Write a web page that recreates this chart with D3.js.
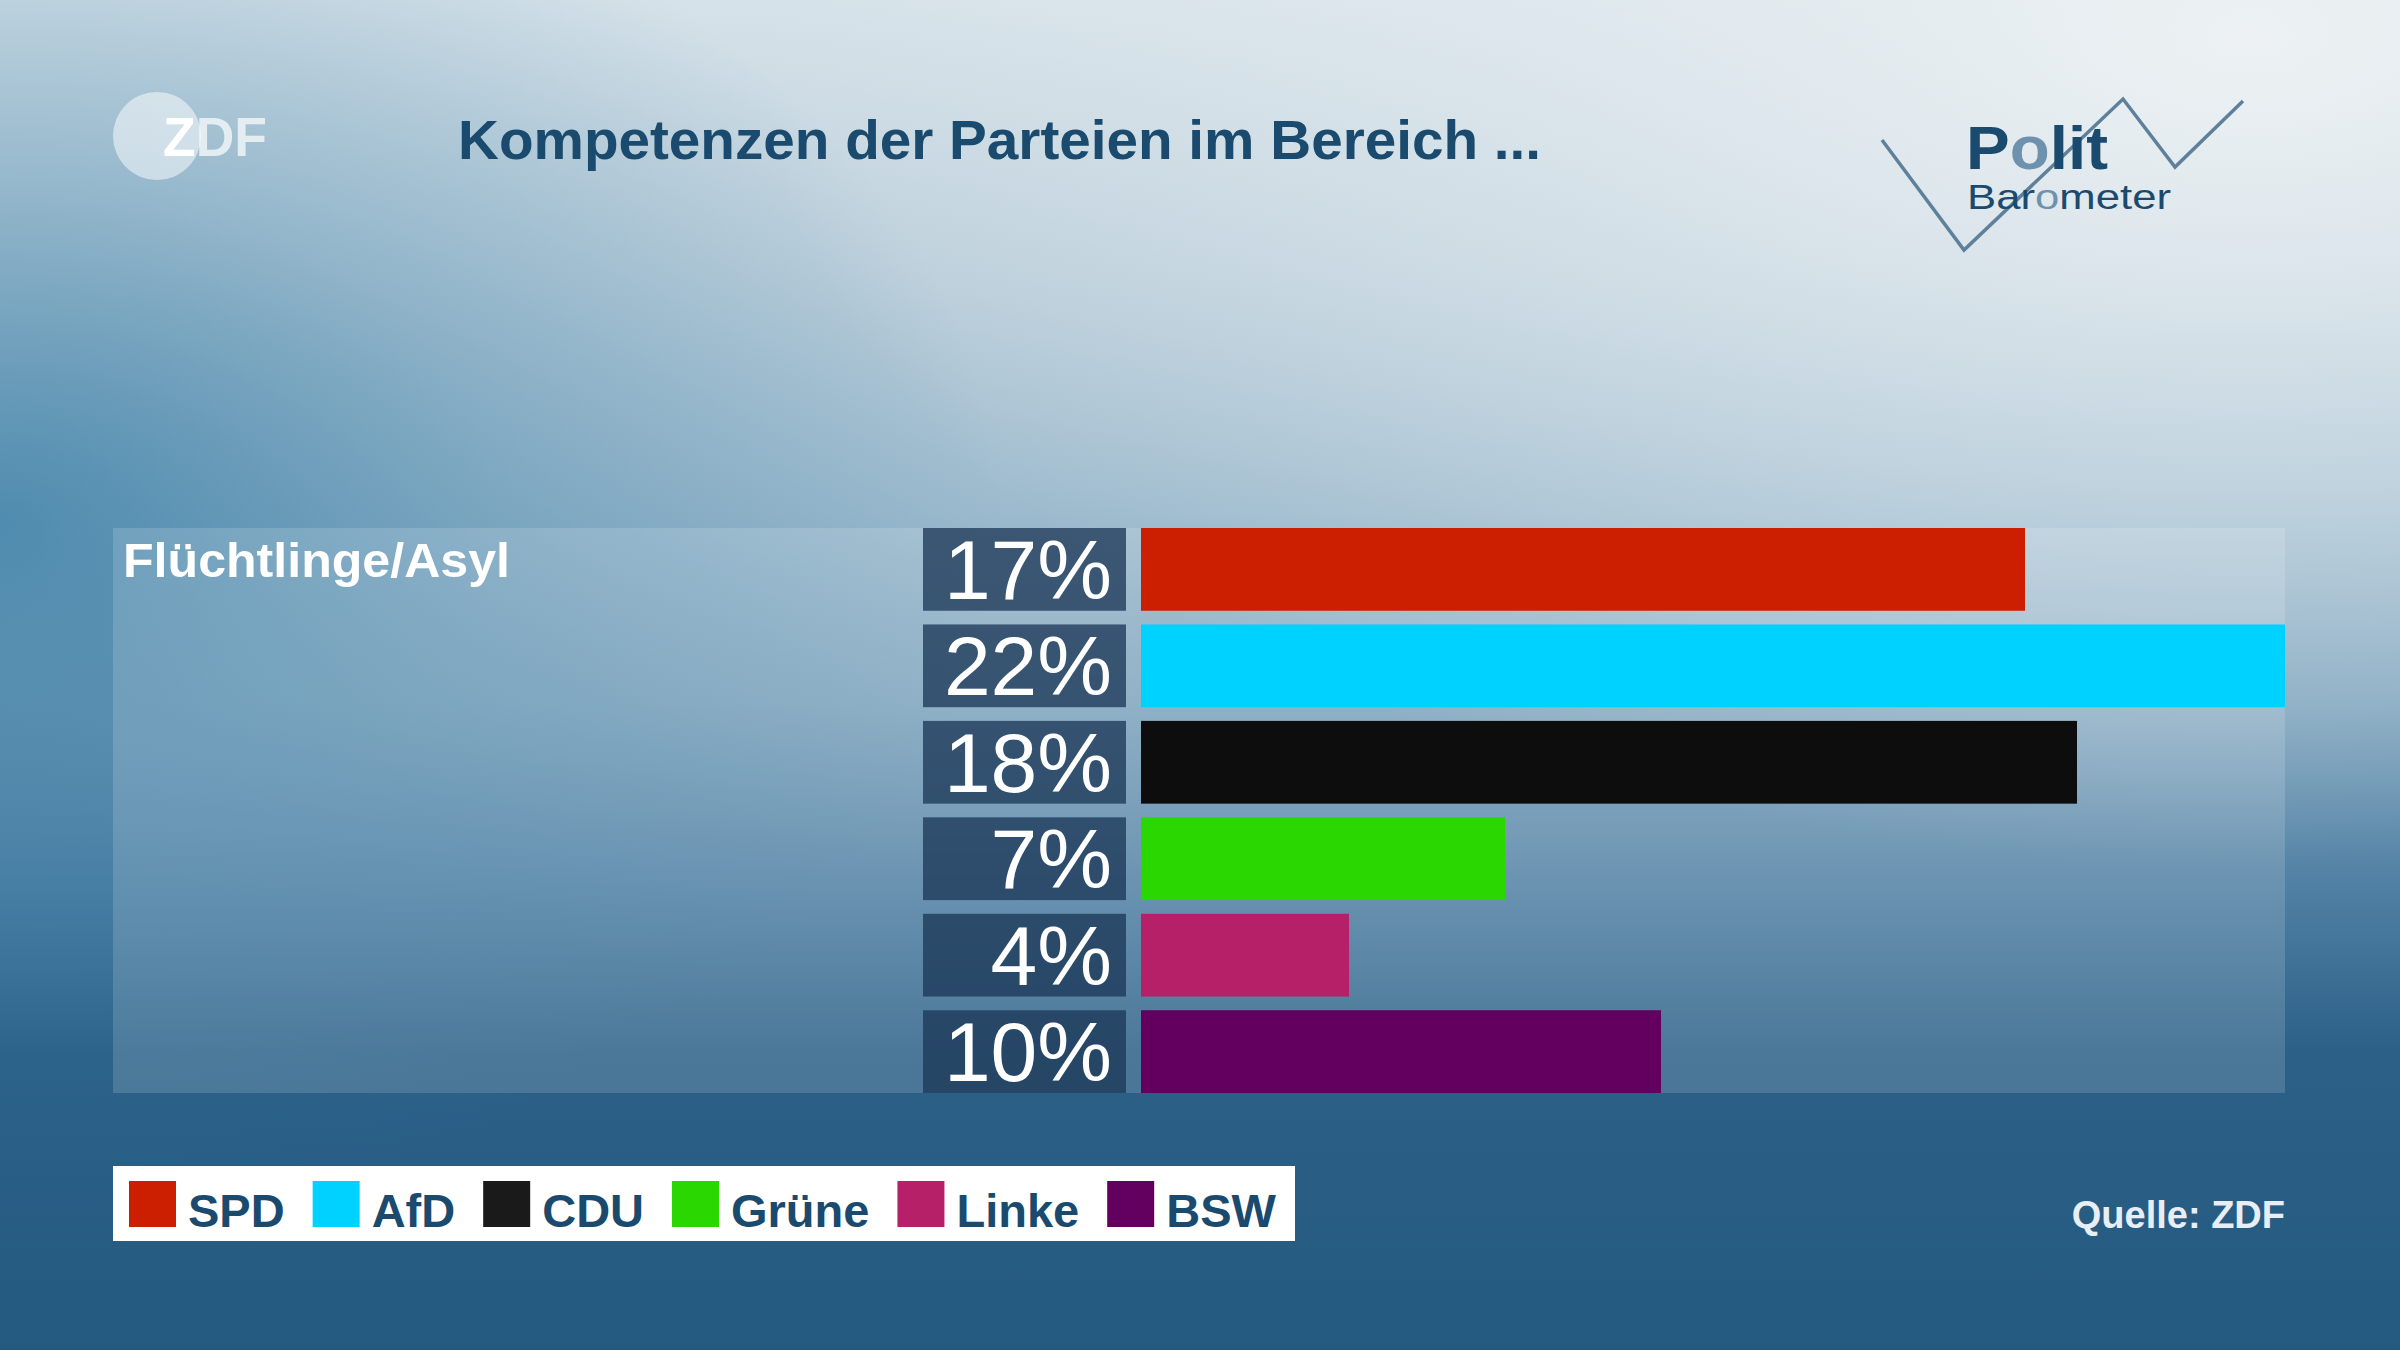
<!DOCTYPE html>
<html>
<head>
<meta charset="utf-8">
<script src="https://cdn.jsdelivr.net/npm/d3@7"></script>
<style>
  html, body { margin: 0; padding: 0; background: #255a80; }
  svg { display: block; }
</style>
</head>
<body>
<script>
// ---- data ----
const titleText = "Kompetenzen der Parteien im Bereich ...";
const topic = "Flüchtlinge/Asyl";
const parties = ["SPD", "AfD", "CDU", "Grüne", "Linke", "BSW"];
const values = [17, 22, 18, 7, 4, 10];
const barColors = ["#cc1e00", "#00d2ff", "#0d0d0d", "#2ad800", "#b52068", "#63005f"];
const legendColors = ["#cc1e00", "#00d2ff", "#1a1a1a", "#2ad800", "#b52068", "#63005f"];
const sourceText = "Quelle: ZDF";

const W = 2400, H = 1350;
const FONT = "'Liberation Sans', Arial, Helvetica, sans-serif";

const svg = d3.select("body").append("svg").attr("width", W).attr("height", H);
const defs = svg.append("defs");

// background gradients
const vg = defs.append("linearGradient").attr("id", "bgV").attr("x1", 0).attr("y1", 0).attr("x2", 0).attr("y2", 1);
[[0, "#d6e2e9"], [0.2, "#bccfdb"], [0.38, "#9cbacd"], [0.52, "#7ea4bd"], [0.66, "#4f7fa3"], [0.78, "#2c6087"], [1, "#245980"]]
  .forEach(([o, c]) => vg.append("stop").attr("offset", o).attr("stop-color", c));

const hl = defs.append("radialGradient").attr("id", "bgHL").attr("gradientUnits", "userSpaceOnUse")
  .attr("cx", 2250).attr("cy", 40).attr("r", 1500)
  .attr("gradientTransform", "translate(2250,40) scale(1,0.55) translate(-2250,-40)");
hl.append("stop").attr("offset", 0).attr("stop-color", "#eef2f4").attr("stop-opacity", 0.95);
hl.append("stop").attr("offset", 0.5).attr("stop-color", "#e6edf1").attr("stop-opacity", 0.5);
hl.append("stop").attr("offset", 1).attr("stop-color", "#e6edf1").attr("stop-opacity", 0);

const lb = defs.append("radialGradient").attr("id", "bgLB").attr("gradientUnits", "userSpaceOnUse")
  .attr("cx", 0).attr("cy", 520).attr("r", 1000)
  .attr("gradientTransform", "translate(0,520) scale(1,0.7) translate(0,-520)");
lb.append("stop").attr("offset", 0).attr("stop-color", "#2f78a2").attr("stop-opacity", 0.7);
lb.append("stop").attr("offset", 0.5).attr("stop-color", "#2f78a2").attr("stop-opacity", 0.3);
lb.append("stop").attr("offset", 1).attr("stop-color", "#2f78a2").attr("stop-opacity", 0);

svg.append("rect").attr("width", W).attr("height", H).attr("fill", "url(#bgV)");
svg.append("rect").attr("width", W).attr("height", H).attr("fill", "url(#bgLB)");
svg.append("rect").attr("width", W).attr("height", H).attr("fill", "url(#bgHL)");

// ---- header ----
// ZDF logo
const logo = svg.append("g");
logo.append("circle").attr("cx", 157).attr("cy", 136).attr("r", 44).attr("fill", "#ffffff").attr("opacity", 0.5);
const lt = logo.append("text").attr("x", 163).attr("y", 156)
  .attr("font-family", FONT).attr("font-weight", "bold").attr("font-size", 55)
  .attr("textLength", 104).attr("lengthAdjust", "spacingAndGlyphs");
lt.append("tspan").attr("fill", "#ffffff").text("Z");
lt.append("tspan").attr("fill", "#ffffff").attr("fill-opacity", 0.7).text("DF");

// title
svg.append("text").attr("x", 458).attr("y", 159)
  .attr("font-family", FONT).attr("font-weight", "bold").attr("font-size", 55)
  .attr("fill", "#1a4a6e")
  .attr("textLength", 1083).attr("lengthAdjust", "spacingAndGlyphs")
  .text(titleText);

// Politbarometer logo
const pb = svg.append("g");
pb.append("polyline")
  .attr("points", "1882,140 1964,250 2123,99 2175,167 2243,101")
  .attr("fill", "none").attr("stroke", "#5f809b").attr("stroke-width", 3.5);
const p1 = pb.append("text").attr("x", 1966).attr("y", 169)
  .attr("font-family", FONT).attr("font-weight", "bold").attr("font-size", 62)
  .attr("fill", "#1a4a6e").attr("textLength", 142).attr("lengthAdjust", "spacingAndGlyphs");
p1.append("tspan").text("P");
p1.append("tspan").attr("fill", "#6e92ae").text("o");
p1.append("tspan").text("lit");
const p2 = pb.append("text").attr("x", 1967).attr("y", 209)
  .attr("font-family", FONT).attr("font-size", 35)
  .attr("fill", "#1a4a6e").attr("textLength", 204).attr("lengthAdjust", "spacingAndGlyphs");
p2.append("tspan").text("Bar");
p2.append("tspan").attr("fill", "#6e92ae").text("o");
p2.append("tspan").text("meter");

// ---- chart panel ----
const panel = { x0: 113, x1: 2285, y0: 528, y1: 1093 };
svg.append("rect")
  .attr("x", panel.x0).attr("y", panel.y0)
  .attr("width", panel.x1 - panel.x0).attr("height", panel.y1 - panel.y0)
  .attr("fill", "#ffffff").attr("fill-opacity", 0.15);

svg.append("text").attr("x", 123).attr("y", 577)
  .attr("font-family", FONT).attr("font-weight", "bold").attr("font-size", 49)
  .attr("fill", "#ffffff")
  .attr("textLength", 387).attr("lengthAdjust", "spacingAndGlyphs")
  .text(topic);

const y = d3.scaleBand().domain(parties).range([panel.y0, panel.y1]).paddingInner(0.142).paddingOuter(0);
const x = d3.scaleLinear().domain([0, 22]).range([1141, 2285]);

const rows = svg.append("g").selectAll("g").data(parties).join("g");

rows.append("rect")
  .attr("x", 923).attr("y", d => y(d))
  .attr("width", 203).attr("height", y.bandwidth())
  .attr("fill", "#1c3858").attr("fill-opacity", 0.78);

rows.append("text")
  .attr("x", 1112).attr("y", d => y(d) + 71)
  .attr("text-anchor", "end")
  .attr("font-family", FONT).attr("font-size", 84)
  .attr("fill", "#ffffff")
  .text((d, i) => values[i] + "%");

rows.append("rect")
  .attr("x", x(0)).attr("y", d => y(d))
  .attr("width", (d, i) => x(values[i]) - x(0)).attr("height", y.bandwidth())
  .attr("fill", (d, i) => barColors[i]);

// ---- legend ----
const leg = svg.append("g");
leg.append("rect").attr("x", 113).attr("y", 1166).attr("width", 1182).attr("height", 75).attr("fill", "#ffffff");
let lx = 129;
parties.forEach((p, i) => {
  leg.append("rect").attr("x", lx).attr("y", 1181).attr("width", 47).attr("height", 46).attr("fill", legendColors[i]);
  const t = leg.append("text").attr("x", lx + 59).attr("y", 1227)
    .attr("font-family", FONT).attr("font-weight", "bold").attr("font-size", 47)
    .attr("fill", "#1a4a6e").text(p);
  lx = lx + 59 + t.node().getComputedTextLength() + 28;
});

// source
svg.append("text").attr("x", 2285).attr("y", 1228).attr("text-anchor", "end")
  .attr("font-family", FONT).attr("font-size", 38).attr("font-weight", "bold")
  .attr("fill", "#e8eef5")
  .text(sourceText);
</script>
</body>
</html>
